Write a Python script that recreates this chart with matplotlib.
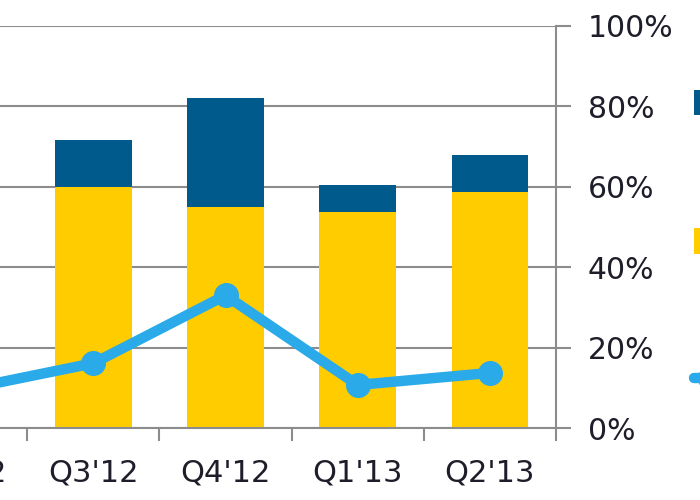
import matplotlib
matplotlib.use("Agg")
import matplotlib.pyplot as plt
import numpy as np

quarters = ["Q2'12", "Q3'12", "Q4'12", "Q1'13", "Q2'13"]
share_a = [55.0, 60.0, 55.0, 53.8, 58.8]     # yellow bars (%)
share_b = [10.0, 11.7, 27.2, 6.7, 9.2]       # dark-blue bars stacked (%)
growth = [9.4, 16.1, 33.0, 10.7, 13.7]       # light-blue line (%)
yticks = [0, 20, 40, 60, 80, 100]
ytick_labels = ["0%", "20%", "40%", "60%", "80%", "100%"]

C_YEL = "#FFCC00"
C_DARK = "#005A8C"
C_LINE = "#2AAAE8"
C_GRID = "#8C8C8C"
C_TEXT = "#1E1E2A"

fig = plt.figure(figsize=(7, 5), dpi=100)
W, H = 700, 500
left_px, right_px = -105, 556
bot_px, top_px = 428, 26
ax = fig.add_axes([left_px / W, (H - bot_px) / H, (right_px - left_px) / W, (bot_px - top_px) / H])

x = np.arange(len(quarters))
h_a = ax.bar(x, share_a, width=0.58, color=C_YEL, zorder=2, label="Series A")
h_b = ax.bar(x, share_b, width=0.58, bottom=share_a, color=C_DARK, zorder=2, label="Series B")
h_c, = ax.plot(x, growth, color=C_LINE, lw=7.5, marker="o", ms=17, zorder=3,
               solid_capstyle="round", label="Series C")

ax.set_xlim(-0.5, len(quarters) - 0.5)
ax.set_ylim(0, 100)
ax.yaxis.tick_right()
ax.set_yticks(yticks)
ax.set_yticklabels(ytick_labels)
ax.grid(axis="y", color=C_GRID, lw=1.5, zorder=0)
ax.set_axisbelow(True)

ax.set_xticks(x)
ax.set_xticklabels(quarters)
ax.set_xticks(np.arange(len(quarters) + 1) - 0.5, minor=True)
ax.tick_params(axis="x", which="major", length=0, pad=22, labelsize=22, labelcolor=C_TEXT)
ax.tick_params(axis="x", which="minor", length=9, width=1.5, color=C_GRID, direction="out")
ax.tick_params(axis="y", which="major", length=11, width=1.5, color=C_GRID, pad=12,
               labelsize=21.5, labelcolor=C_TEXT, direction="out")

for s in ["top", "left"]:
    ax.spines[s].set_visible(False)
for s in ["right", "bottom"]:
    ax.spines[s].set_color(C_GRID)
    ax.spines[s].set_linewidth(1.5)

fig.legend([h_b, h_a, h_c], ["Series B", "Series A", "Series C"],
           loc="upper left", bbox_to_anchor=(694 / W, 1 - 90 / H),
           bbox_transform=fig.transFigure, frameon=False, fontsize=19,
           handlelength=1.2, handleheight=1.1, handletextpad=0.6,
           labelspacing=4.2, borderpad=0, borderaxespad=0)

fig.savefig("out.png", dpi=100)
